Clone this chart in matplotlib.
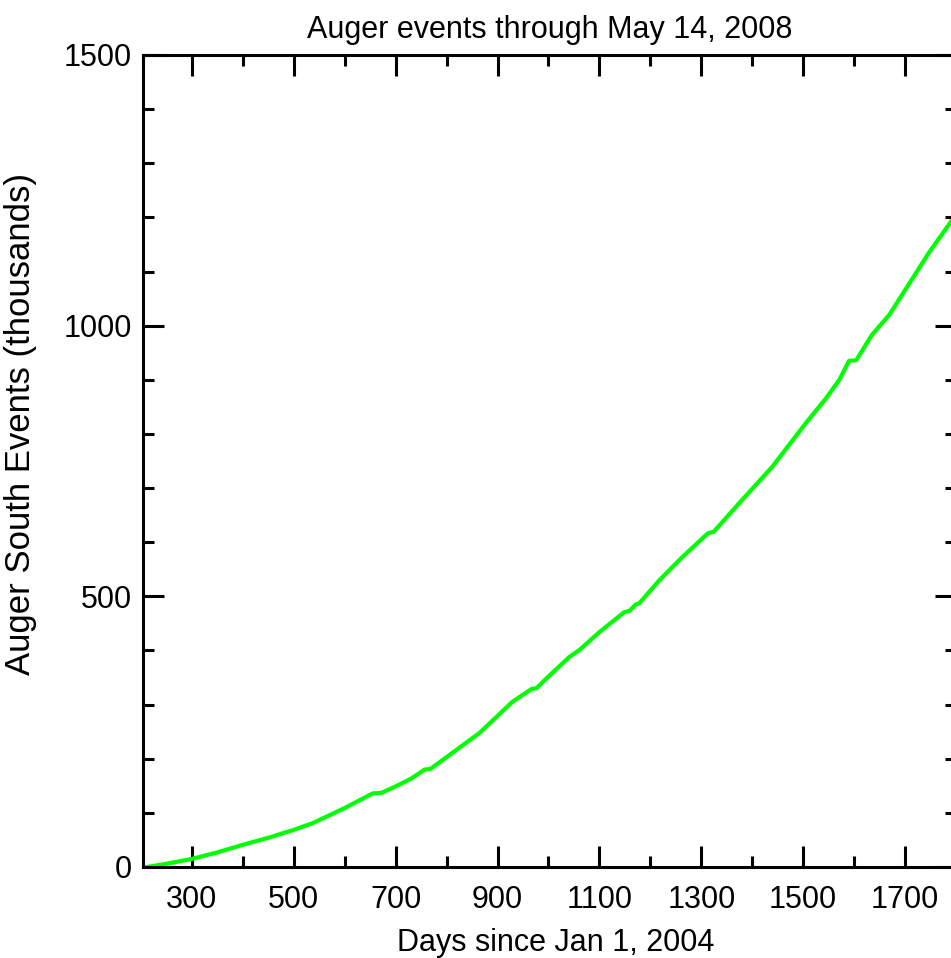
import matplotlib.pyplot as plt
from matplotlib.ticker import MultipleLocator

# days since Jan 1, 2004 and cumulative events (thousands)
days = [212, 250, 300, 350, 400, 450, 498, 537, 600, 655, 672, 698, 730,
        757, 768, 800, 865, 929, 967, 976, 1000, 1041, 1061, 1100, 1149,
        1159, 1171, 1178, 1218, 1260, 1310, 1314, 1324, 1380, 1439, 1506,
        1545, 1571, 1590, 1604, 1635, 1669, 1688, 1747, 1790]
events = [0, 6, 15, 27, 41, 54, 68, 81, 109, 136, 137, 148, 163,
          180, 181, 203, 248, 305, 329, 330, 352, 388, 401, 434, 471,
          473, 485, 487, 530, 570, 614, 617, 619, 678, 739, 821,
          866, 900, 935, 936, 983, 1020, 1048, 1135, 1192]

plt.rcParams['font.family'] = ['Liberation Sans', 'DejaVu Sans']

fig = plt.figure(figsize=(9.51, 9.58), dpi=100)
ax = fig.add_axes([143 / 951, 1 - 867 / 958, (956 - 143) / 951, (867 - 55) / 958])

ax.plot(days, events, color='#00ff00', lw=3)

ax.set_xlim(204, 1800)
ax.set_ylim(0, 1500)
ax.set_xticks([300, 500, 700, 900, 1100, 1300, 1500, 1700])
ax.xaxis.set_minor_locator(MultipleLocator(100))
ax.set_yticks([0, 500, 1000, 1500])
ax.yaxis.set_minor_locator(MultipleLocator(100))

ax.tick_params(which='both', direction='in', top=True, right=True,
               width=2.2, labelsize=22)
ax.tick_params(which='major', length=15)
ax.tick_params(which='minor', length=8)
ax.tick_params(axis='x', pad=13)
ax.tick_params(axis='y', pad=8)
for s in ax.spines.values():
    s.set_linewidth(2.2)

ax.set_title("Auger events through May 14, 2008", fontsize=22, pad=12)
ax.set_xlabel("Days since Jan 1, 2004", fontsize=22, labelpad=8)
ax.xaxis.set_label_coords(0.508, -0.075)
ax.set_ylabel("Auger South Events (thousands)", fontsize=25)
ax.yaxis.set_label_coords(-0.130, 0.5456)

fig.savefig('out.png', dpi=100)
